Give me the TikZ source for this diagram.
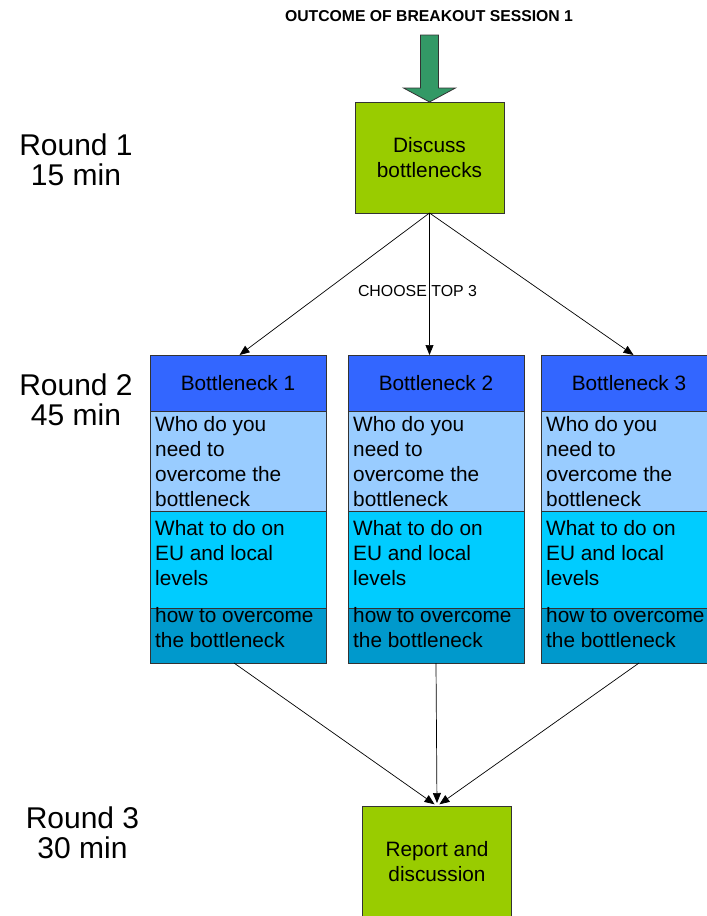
\documentclass[tikz,border=0pt]{standalone}
\usepackage{fontspec}
\setmainfont{Liberation Sans}
\usetikzlibrary{calc,arrows.meta}

\definecolor{stepGreen}{HTML}{99CC00}
\definecolor{arrowGreen}{HTML}{339966}
\definecolor{bnBlue}{HTML}{3366FF}
\definecolor{whoBlue}{HTML}{99CCFF}
\definecolor{whatBlue}{HTML}{00CCFF}
\definecolor{howBlue}{HTML}{0099CC}

\def\bottleneckColumn#1{%
\node[titleBox] (bn#1) at (88,383) {Bottleneck #1};
\node[whoBox, anchor=north] (who#1) at (bn#1.south) {};
\node[whatBox, anchor=north] (what#1) at (who#1.south) {};
\node[howBox, anchor=north] (how#1) at (what#1.south) {};
\node[textw] (whoText#1) at ([xshift=5pt,yshift=-5pt]who#1.north west) {Who do you\\need to\\overcome the\\bottleneck};
\node[textw] (whatText#1) at ([xshift=5pt,yshift=-9pt]what#1.north west) {What to do on\\EU and local\\levels};
\node[textw] (howText#1) at ([xshift=5pt,yshift=1pt]how#1.north west) {how to overcome\\the bottleneck};
}

\begin{document}
\begin{tikzpicture}[x=1pt, y=-1pt]

% styles des noeuds
\tikzstyle{textLine}=[rectangle, text=black, inner sep=0pt, align=center, font=\fontsize{20.8}{25}\selectfont]
\tikzstyle{textw}=[rectangle, text=black, inner sep=0pt, align=left, anchor=north west, font=\fontsize{20.8}{25}\selectfont]
\tikzstyle{roundText}=[rectangle, text=black, inner sep=0pt, align=center, font=\fontsize{30}{30}\selectfont]
\tikzstyle{headText}=[rectangle, text=black, inner sep=0pt, font=\fontsize{15.75}{18}\selectfont\bfseries]
\tikzstyle{smallText}=[rectangle, text=black, inner sep=0pt, font=\fontsize{15.9}{18}\selectfont]

% styles
\tikzstyle{stepBox}=[rectangle, draw=black!80, fill=stepGreen, line width=0.8pt, minimum width=149pt, minimum height=111pt, outer sep=0pt, textLine]
\tikzstyle{block}=[rectangle, draw=black!80, line width=0.8pt, minimum width=176pt, inner sep=0pt, outer sep=0pt]
\tikzstyle{titleBox}=[block, fill=bnBlue, minimum height=56pt, textLine]
\tikzstyle{whoBox}=[block, fill=whoBlue, minimum height=100pt]
\tikzstyle{whatBox}=[block, fill=whatBlue, minimum height=97pt]
\tikzstyle{howBox}=[block, fill=howBlue, minimum height=55pt]

\tikzstyle{vector}=[-{Triangle[length=10pt,width=8pt]}, line width=0.7pt]

\useasboundingbox (0,0) rectangle (707,916);

\node[headText] (outcome) at (429,16) {OUTCOME OF BREAKOUT SESSION 1};
\node[stepBox] (discuss) at (429.5,157.5) {Discuss\\bottlenecks};
\draw[fill=arrowGreen, draw=black!80, line width=0.8pt] (420.5,35) -- (438.5,35) -- (438.5,88) -- (455.5,88) -- (discuss.north) -- (403.5,88) -- (420.5,88) -- cycle;

\node[roundText] (round1) at (76,160) {Round 1\\15 min};
\node[roundText] (round2) at (76,400) {Round 2\\45 min};
\node[roundText] (round3) at (82.5,832.5) {Round 3\\30 min};

\begin{scope}[shift={(150,0)}]
\bottleneckColumn{1}
\end{scope}

\begin{scope}[shift={(348,0)}]
\bottleneckColumn{2}
\end{scope}

\begin{scope}[shift={(541,0)}]
\bottleneckColumn{3}
\end{scope}

\node[stepBox] (report) at (437,861.5) {Report and\\discussion};

\draw[vector] (discuss.south) -- ([xshift=1.5pt]bn1.north);
\draw[vector] (discuss.south) -- (discuss.south |- bn2.north);
\draw[vector] (discuss.south) -- ([xshift=4.5pt]bn3.north);
\node[smallText] (choose) at (417.5,291) {CHOOSE TOP 3};

\draw[vector, shorten >=3pt] ([xshift=-4pt]how1.south) -- (report.north);
\draw[vector, shorten >=3pt] (how2.south) -- (report.north);
\draw[vector, shorten >=3pt] ([xshift=10pt]how3.south) -- (report.north);

\end{tikzpicture}
\end{document}
